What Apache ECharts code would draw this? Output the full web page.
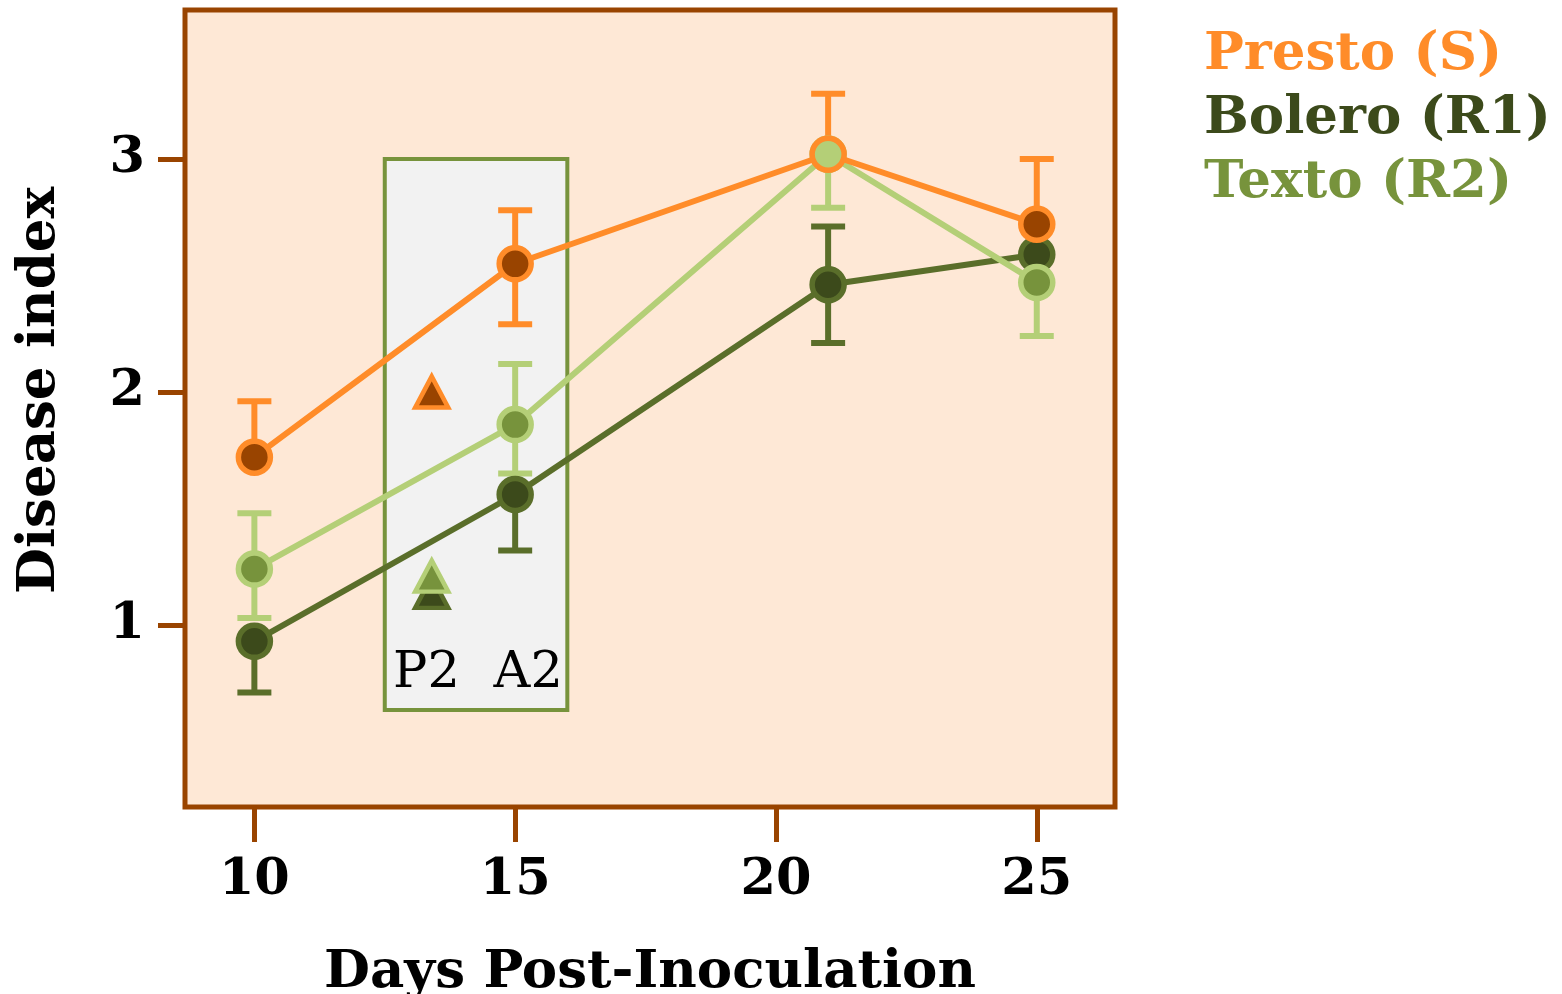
<!DOCTYPE html>
<html>
<head>
<meta charset="utf-8">
<script src="https://cdn.jsdelivr.net/npm/echarts@6/dist/echarts.min.js"></script>
<style>
html,body{margin:0;padding:0;background:#fff;}
#chart{width:1562px;height:994px;}
</style>
</head>
<body>
<div id="chart"></div>
<script>
// ---- data ----
const days = [10, 15, 21, 25];
const xTicks = [10, 15, 20, 25];
const yTicks = [1, 2, 3];

const prestoMean  = [1.72, 2.55, 3.02, 2.72];
const prestoUpper = [1.96, 2.78, 3.28, 3.00];
const prestoLower = [null, 2.29, null, null];

const boleroMean  = [0.93, 1.56, 2.46, 2.59];
const boleroUpper = [null, null, 2.71, null];
const boleroLower = [0.71, 1.32, 2.21, null];

const textoMean  = [1.24, 1.86, 3.02, 2.47];
const textoUpper = [1.48, 2.12, null, null];
const textoLower = [1.03, 1.65, 2.79, 2.24];

// triangles (P2 time point)
const triDay = 13.4;
const prestoTri = 2.0;
const boleroTri = 1.14;
const textoTri = 1.21;

// shaded window
const windowX = [12.5, 16];
const windowY = [0.635, 3.0];
const windowLabels = [[13.3, 0.79, 'P2'], [15.25, 0.79, 'A2']];

const seriesNames = ['Presto (S)', 'Bolero (R1)', 'Texto (R2)'];

// ---- styles ----
const C = {
  orange: '#ff8c29', brown: '#994400',
  dark: '#3c4a1b', mid: '#5a6e2a',
  light: '#b4cf77', olive: '#77933c'
};
const FONT = 'DejaVu Serif';

function errSeries(mean, up, lo, color) {
  return {
    type: 'custom',
    silent: true,
    z: 2,
    data: days.map((d, i) => [d, mean[i]]),
    encode: { x: 0, y: 1 },
    renderItem: function (params, api) {
      const i = params.dataIndex;
      const x = days[i];
      const c = api.coord([x, mean[i]]);
      const children = [];
      const cap = 17;
      [up[i], lo[i]].forEach(function (v) {
        if (v === null || v === undefined) return;
        const p = api.coord([x, v]);
        children.push({ type: 'line', shape: { x1: c[0], y1: c[1], x2: p[0], y2: p[1] }, style: { stroke: color, lineWidth: 6 } });
        children.push({ type: 'line', shape: { x1: p[0] - cap, y1: p[1], x2: p[0] + cap, y2: p[1] }, style: { stroke: color, lineWidth: 6 } });
      });
      return { type: 'group', children: children };
    }
  };
}

function lineSeries(name, mean, lineColor, fill, border, z, specialItems) {
  return {
    name: name,
    type: 'line',
    z: z,
    data: days.map((d, i) => {
      const item = { value: [d, mean[i]] };
      if (specialItems && specialItems[i]) item.itemStyle = specialItems[i];
      return item;
    }),
    symbol: 'circle',
    symbolSize: 32,
    showSymbol: true,
    lineStyle: { color: lineColor, width: 6 },
    itemStyle: { color: fill, borderColor: border, borderWidth: 5.5 },
    emphasis: { disabled: true }
  };
}

function triSeries(name, v, fill, border, z) {
  return {
    name: name,
    type: 'scatter',
    z: z,
    symbol: 'triangle',
    symbolSize: [33, 31],
    data: [[triDay, v]],
    itemStyle: { color: fill, borderColor: border, borderWidth: 4.5, opacity: 1 },
    emphasis: { disabled: true }
  };
}

const chart = echarts.init(document.getElementById('chart'), null, { renderer: 'canvas' });

const option = {
  animation: false,
  backgroundColor: '#ffffff',
  grid: {
    left: 185, right: 447, top: 10, bottom: 187,
    containLabel: false,
    outerBoundsMode: 'none',
    show: true, backgroundColor: '#fee8d6', borderColor: '#994400', borderWidth: 5
  },
  legend: {
    orient: 'vertical',
    left: 1194, top: 24,
    icon: 'none',
    itemWidth: 0, itemHeight: 0,
    itemGap: 11,
    selectedMode: false,
    textStyle: { fontFamily: FONT, fontWeight: 'bold', fontSize: 53 },
    data: [
      { name: seriesNames[0], textStyle: { color: C.orange } },
      { name: seriesNames[1], textStyle: { color: C.dark } },
      { name: seriesNames[2], textStyle: { color: C.olive } }
    ]
  },
  xAxis: {
    type: 'value',
    min: 8.67, max: 26.5,
    name: 'Days Post-Inoculation',
    nameLocation: 'middle',
    nameGap: 140,
    nameTextStyle: { fontFamily: FONT, fontWeight: 'bold', fontSize: 53, color: '#000' },
    axisLine: { show: false },
    splitLine: { show: false },
    axisTick: { show: true, length: 35, customValues: xTicks, lineStyle: { color: '#994400', width: 5 } },
    axisLabel: { customValues: xTicks, margin: 48, fontFamily: FONT, fontWeight: 'bold', fontSize: 51, color: '#000' }
  },
  yAxis: {
    type: 'value',
    min: 0.219, max: 3.639,
    name: 'Disease index',
    nameLocation: 'middle',
    nameGap: 118,
    nameRotate: 90,
    nameTextStyle: { fontFamily: FONT, fontWeight: 'bold', fontSize: 53, color: '#000', padding: [0, 0, 0, 36] },
    axisLine: { show: false },
    splitLine: { show: false },
    axisTick: { show: true, length: 27, customValues: yTicks, lineStyle: { color: '#994400', width: 5 } },
    axisLabel: { customValues: yTicks, margin: 40, fontFamily: FONT, fontWeight: 'bold', fontSize: 51, color: '#000' }
  },
  series: [
    {
      type: 'custom', silent: true, z: 1,
      data: [[windowX[0], windowY[1]]],
      renderItem: function (params, api) {
        const a = api.coord([windowX[0], windowY[1]]);
        const b = api.coord([windowX[1], windowY[0]]);
        return { type: 'rect', shape: { x: a[0], y: a[1], width: b[0] - a[0], height: b[1] - a[1] },
          style: { fill: '#f2f2f2', stroke: C.olive, lineWidth: 4 } };
      }
    },
    {
      type: 'custom', silent: true, z: 1,
      data: windowLabels,
      renderItem: function (params, api) {
        const d = windowLabels[params.dataIndex];
        const p = api.coord([d[0], d[1]]);
        return { type: 'text', x: p[0], y: p[1],
          style: { text: d[2], fill: '#000', fontSize: 51, fontFamily: FONT,
            align: 'center', verticalAlign: 'middle', textAlign: 'center', textVerticalAlign: 'middle' } };
      }
    },
    errSeries(boleroMean, boleroUpper, boleroLower, C.mid),
    errSeries(textoMean, textoUpper, textoLower, C.light),
    errSeries(prestoMean, prestoUpper, prestoLower, C.orange),
    triSeries('Bolero P2', boleroTri, C.dark, C.mid, 3),
    triSeries('Texto P2', textoTri, C.olive, C.light, 3),
    triSeries('Presto P2', prestoTri, C.brown, C.orange, 3),
    lineSeries(seriesNames[1], boleroMean, C.mid, C.dark, C.mid, 4),
    lineSeries(seriesNames[2], textoMean, C.light, C.olive, C.light, 5),
    lineSeries(seriesNames[0], prestoMean, C.orange, C.brown, C.orange, 6,
      [null, null, { color: C.light, borderColor: C.orange, borderWidth: 5.5 }, null])
  ]
};
chart.setOption(option);
</script>
</body>
</html>
